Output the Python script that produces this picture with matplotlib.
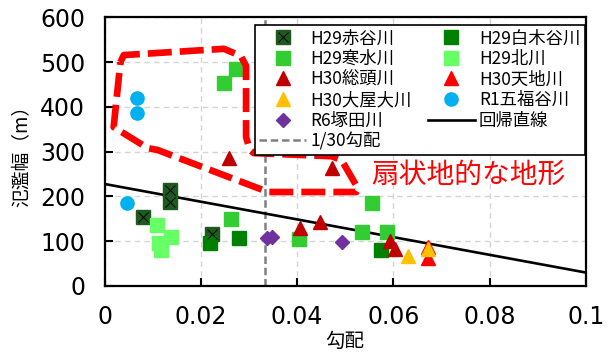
import matplotlib.pyplot as plt
from matplotlib.legend_handler import HandlerTuple

plt.rcParams['font.family'] = ['Noto Sans CJK JP', 'DejaVu Sans']

# 各河川のデータ (勾配, 氾濫幅)
akadani_x = [0.008, 0.0136, 0.0136, 0.0223]
akadani_y = [155, 214, 188, 116]
shiraki_x = [0.0219, 0.0279, 0.0574]
shiraki_y = [95, 108, 80]
kansui_x = [0.0249, 0.0273, 0.0262, 0.0403, 0.0535, 0.0556, 0.0586]
kansui_y = [453, 484, 149, 104, 121, 185, 121]
kitagawa_x = [0.011, 0.0138, 0.0113, 0.0117]
kitagawa_y = [136, 110, 95, 80]
souzu_x = [0.0258, 0.0407, 0.0447, 0.0473, 0.0592, 0.0603]
souzu_y = [285, 129, 144, 264, 101, 83]
tenchi_x = [0.0671, 0.0672]
tenchi_y = [88, 62]
ooya_x = [0.063, 0.0671]
ooya_y = [67, 82]
gofuku_x = [0.0047, 0.0067, 0.0068]
gofuku_y = [185, 419, 386]
tsukada_x = [0.0338, 0.0348, 0.0494]
tsukada_y = [108, 110, 99]

# 回帰直線
reg_x = [0.0, 0.1]
reg_y = [228, 30]

# 1/30勾配
slope_ref = 1 / 30

# 扇状地的な地形の囲み
fan_x = [0.0033, 0.004, 0.0248, 0.0283, 0.0294, 0.0294, 0.0302, 0.031, 0.0471,
         0.0492, 0.0527, 0.0523, 0.034, 0.011, 0.009, 0.0019, 0.0033]
fan_y = [500, 516, 530, 514, 492, 333, 304, 297, 290,
         282, 217, 210, 210, 304, 308, 355, 500]

xticks = [0, 0.02, 0.04, 0.06, 0.08, 0.1]
xtick_labels = ['0', '0.02', '0.04', '0.06', '0.08', '0.1']
yticks = [0, 100, 200, 300, 400, 500, 600]

fig = plt.figure(figsize=(6.14, 3.54), dpi=100)
ax = fig.add_axes([0.1702, 0.1921, 0.7842, 0.7585])

ms = 9.5
ax.plot(reg_x, reg_y, color='black', lw=1.9, zorder=2)
h_reg, = ax.plot([], [], color='black', lw=1.9, label='回帰直線')
h_ref = ax.axvline(slope_ref, color='#808080', lw=1.8, ls=(0, (3, 1.5)), zorder=1.5)

h_ak1, = ax.plot(akadani_x, akadani_y, 's', color='#1e5a1e', ms=ms, mec='#1e5a1e', zorder=3)
h_ak2, = ax.plot(akadani_x, akadani_y, 'x', color='black', ms=ms * 0.75, mew=0.7, zorder=3.1)
h_sh, = ax.plot(shiraki_x, shiraki_y, 's', color='#008000', ms=ms, zorder=3)
h_ka, = ax.plot(kansui_x, kansui_y, 's', color='#32cd32', ms=ms, zorder=3)
h_ki, = ax.plot(kitagawa_x, kitagawa_y, 's', color='#66ff66', ms=ms, zorder=3)
h_so, = ax.plot(souzu_x, souzu_y, '^', color='#c00000', ms=ms, zorder=3)
h_te, = ax.plot(tenchi_x, tenchi_y, '^', color='#ff0000', ms=ms, zorder=3)
h_oo, = ax.plot(ooya_x, ooya_y, '^', color='#ffc000', ms=ms, zorder=3)
h_go, = ax.plot(gofuku_x, gofuku_y, 'o', color='#00b0f0', ms=ms, zorder=3)
h_ts, = ax.plot(tsukada_x, tsukada_y, 'D', color='#7030a0', ms=ms * 0.75, zorder=3)

ax.plot(fan_x, fan_y, color='#ff0000', lw=4.8, ls=(0, (3.6, 1.2)),
        solid_joinstyle='round', zorder=4)
ax.text(0.0755, 248, '扇状地的な地形', color='#ff0000', fontsize=20,
        ha='center', va='center', zorder=5)

ax.set_xlim(0, 0.1)
ax.set_ylim(0, 600)
ax.set_xticks(xticks)
ax.set_xticklabels(xtick_labels, family='DejaVu Sans')
ax.set_yticks(yticks)
ax.set_yticklabels([str(v) for v in yticks], family='DejaVu Sans')
ax.tick_params(direction='in', length=6, width=1.5, labelsize=17, pad=14)
ax.grid(True, color='#d4d4d4', ls=(0, (4, 3)), lw=1)
ax.set_axisbelow(True)
for s in ax.spines.values():
    s.set_linewidth(1.6)

ax.set_xlabel('勾配', fontsize=14, labelpad=1)
ax.set_ylabel('氾濫幅（m）', fontsize=13.5)
ax.yaxis.set_label_coords(-0.15, 0.5)

handles = [(h_ak1, h_ak2), h_ka, h_so, h_oo, h_ts, h_ref,
           h_sh, h_ki, h_te, h_go, h_reg]
labels = ['H29赤谷川', 'H29寒水川', 'H30総頭川', 'H30大屋大川', 'R6塚田川', '1/30勾配',
          'H29白木谷川', 'H29北川', 'H30天地川', 'R1五福谷川', '回帰直線']
leg = ax.legend(handles, labels, ncol=2, loc='upper right',
                bbox_to_anchor=(0.997, 0.972), borderaxespad=0,
                fontsize=12.5, fancybox=False, framealpha=1, edgecolor='black',
                handlelength=2.7, handletextpad=0.25, labelspacing=0.15,
                columnspacing=0.9, borderpad=0.25,
                handler_map={tuple: HandlerTuple(ndivide=1)})
leg.get_frame().set_linewidth(1.2)
leg.set_zorder(10)

fig.savefig('out.png', dpi=100)
